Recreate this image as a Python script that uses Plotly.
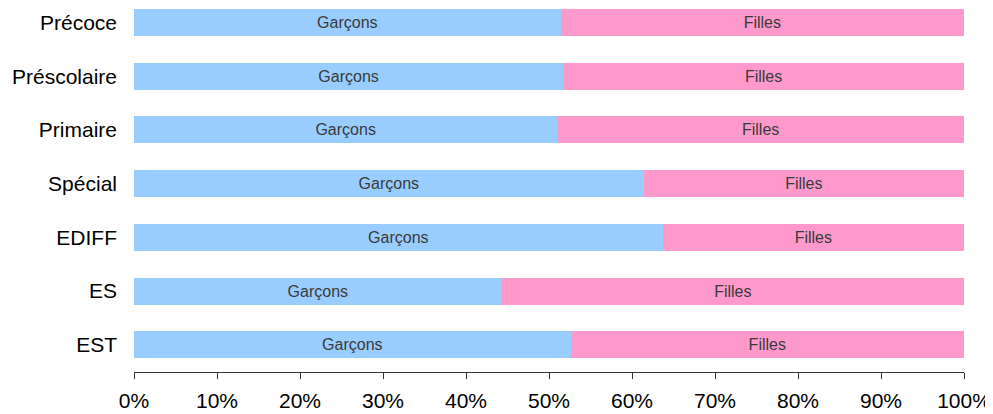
import plotly.graph_objects as go

categories = ["Précoce", "Préscolaire", "Primaire", "Spécial", "EDIFF", "ES", "EST"]
garcons = [51.4, 51.7, 51.0, 61.4, 63.7, 44.3, 52.6]
filles = [round(100 - g, 1) for g in garcons]
tick_vals = [0, 10, 20, 30, 40, 50, 60, 70, 80, 90, 100]
tick_text = [f"{v}%" for v in tick_vals]

FONT = "Liberation Sans, Arial, sans-serif"

fig = go.Figure()
fig.add_trace(go.Bar(
    y=categories, x=garcons, orientation="h", name="Garçons",
    marker=dict(color="#99CCFF", line=dict(width=0)),
    text=["Garçons"] * len(categories), textposition="inside",
    insidetextanchor="middle",
    textfont=dict(family=FONT, size=16, color="#3a3a3a"),
    hoverinfo="x+y",
))
fig.add_trace(go.Bar(
    y=categories, x=filles, orientation="h", name="Filles",
    marker=dict(color="#FF99CC", line=dict(width=0)),
    text=["Filles"] * len(categories), textposition="inside",
    insidetextanchor="middle",
    textfont=dict(family=FONT, size=16, color="#3a3a3a"),
    hoverinfo="x+y",
))

# page body has an 8px margin, so the figure is sized to fit the window
fig.update_layout(
    barmode="stack",
    bargap=0.497,
    width=985, height=406,
    margin=dict(l=125.7, r=28.7, t=0, b=42.3, pad=0),
    paper_bgcolor="white", plot_bgcolor="white",
    showlegend=False,
    uniformtext=dict(minsize=8, mode="show"),
    font=dict(family=FONT, color="black"),
)
fig.update_xaxes(
    range=[0, 100], tickvals=tick_vals, ticktext=tick_text,
    showgrid=False, zeroline=False,
    showline=True, linecolor="#333333", linewidth=1,
    ticks="outside", ticklen=6, tickcolor="#333333", tickwidth=1,
    tickfont=dict(family=FONT, size=21, color="black"),
    ticklabelstandoff=4,
    fixedrange=True,
)
fig.update_yaxes(
    type="category", categoryorder="array", categoryarray=categories,
    range=[6.506, -0.270],
    showgrid=False, zeroline=False, showline=False, ticks="",
    tickfont=dict(family=FONT, size=21, color="black"),
    ticklabelstandoff=16,
    fixedrange=True,
)

fig.write_html("out.html")
